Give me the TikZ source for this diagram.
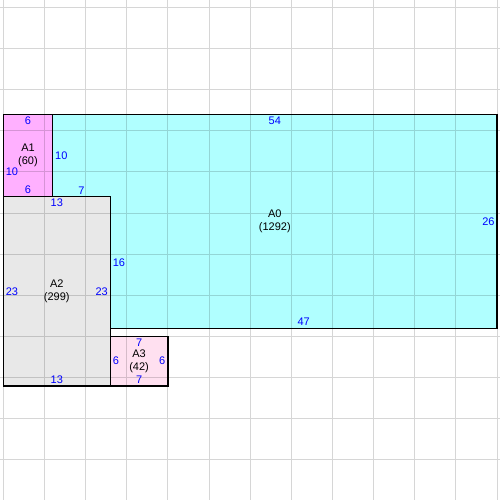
\documentclass[tikz,border=0pt]{standalone}
\usepackage{fontspec}
\setmainfont{Liberation Sans}
\definecolor{a0fill}{HTML}{B0FFFF}
\definecolor{a1fill}{HTML}{FFB0FF}
\definecolor{a2fill}{HTML}{E8E8E8}
\definecolor{a3fill}{HTML}{FFE0F0}
\begin{document}
\begin{tikzpicture}[
            x=0.25cm, y=-0.25cm,
            font=\fontsize{9.5}{10.6}\selectfont,
            gridline/.style={black, draw opacity=0.16, line width=0.8pt},
            region/.style={draw=black, line width=1.1pt},
            lenlabel/.style={text=blue, inner sep=2pt},
            arealabel/.style={align=center, inner sep=0pt}
        ]
        \useasboundingbox (-0.4,-13.89) rectangle (60.35,46.87);
        \fill[a0fill] (6,0) -- (60,0) -- (60,26) -- (13,26) -- (13,10) -- (6,10) -- cycle;
        \fill[a1fill] (0,0) rectangle (6,10);
        \fill[a2fill] (0,10) rectangle (13,33);
        \fill[a3fill] (13,27) rectangle (20,33);
        \draw[gridline]
            \foreach \gx in {0,5,...,60} {(\gx,-13.89) -- (\gx,46.87)}
            \foreach \gy in {-13,-8,...,42} {(-0.4,\gy) -- (60.35,\gy)};
        \draw[region] (6,0) -- (60,0) -- (60,26) -- (13,26) -- (13,10) -- (6,10) -- cycle;
        \draw[region] (0,0) rectangle (6,10);
        \draw[region] (0,10) rectangle (13,33);
        \draw[region] (13,27) rectangle (20,33);
        \node[arealabel] (a0) at (33,13) {A0\\(1292)};
        \node[lenlabel, anchor=north] (a0top) at (33,0) {54};
        \node[lenlabel, anchor=west] (a0left) at (6,5) {10};
        \node[lenlabel, anchor=south] (a0step) at (9.5,10) {7};
        \node[lenlabel, anchor=west] (a0inner) at (13,18) {16};
        \node[lenlabel, anchor=south] (a0bottom) at (36.5,26) {47};
        \node[lenlabel, anchor=east] (a0right) at (60,13) {26};
        \node[arealabel] (a1) at (3,5) {A1\\(60)};
        \node[lenlabel, anchor=north] (a1top) at (3,0) {6};
        \node[lenlabel, anchor=west] (a1left) at (0,7) {10};
        \node[lenlabel, anchor=south] (a1bottom) at (3,10) {6};
        \node[arealabel] (a2) at (6.5,21.5) {A2\\(299)};
        \node[lenlabel, anchor=north] (a2top) at (6.5,10) {13};
        \node[lenlabel, anchor=west] (a2left) at (0,21.5) {23};
        \node[lenlabel, anchor=east] (a2right) at (13,21.5) {23};
        \node[lenlabel, anchor=south] (a2bottom) at (6.5,33) {13};
        \node[arealabel] (a3) at (16.5,30) {A3\\(42)};
        \node[lenlabel, anchor=north] (a3top) at (16.5,27) {7};
        \node[lenlabel, anchor=west] (a3left) at (13,30) {6};
        \node[lenlabel, anchor=east] (a3right) at (20,30) {6};
        \node[lenlabel, anchor=south] (a3bottom) at (16.5,33) {7};
    \end{tikzpicture}
\end{document}
